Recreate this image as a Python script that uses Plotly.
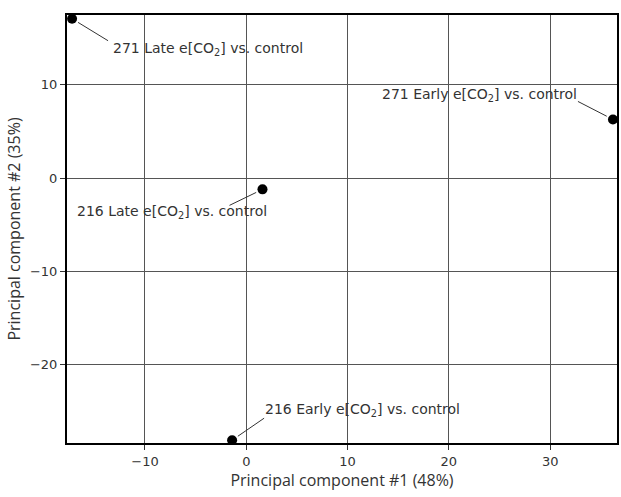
import math
import plotly.graph_objects as go

# Data
labels = ["271 Late e[CO<sub>2</sub>] vs. control",
          "216 Late e[CO<sub>2</sub>] vs. control",
          "271 Early e[CO<sub>2</sub>] vs. control",
          "216 Early e[CO<sub>2</sub>] vs. control"]
pc1 = [-17.2, 1.6, 36.2, -1.4]
pc2 = [17.1, -1.2, 6.3, -28.1]
x_ticks = [-10, 0, 10, 20, 30]
y_ticks = [-20, -10, 0, 10]

# label placement (pixel offsets, y downward)
text_shift = [(136, -30), (-90, -23), (-133, 24), (130, 30)]
leader_end = [(36, 22), (-33, 16), (-35, -18), (32, -22)]
STANDOFF = 7

FONT = "DejaVu Sans"
TFONT = "Open Sans"

fig = go.Figure()
fig.add_trace(go.Scatter(x=pc1, y=pc2, mode="markers",
                         marker=dict(color="black", size=10),
                         showlegend=False, hoverinfo="skip"))

for xi, yi, lab, (sx, sy), (ex, ey) in zip(pc1, pc2, labels, text_shift, leader_end):
    d = math.hypot(ex, ey)
    bx, by = ex * STANDOFF / d, ey * STANDOFF / d
    fig.add_shape(type="line", xref="x", yref="y",
                  xsizemode="pixel", ysizemode="pixel",
                  xanchor=xi, yanchor=yi,
                  x0=bx, y0=-by, x1=ex, y1=-ey,
                  line=dict(color="#333", width=1))
    fig.add_annotation(x=xi, y=yi, xref="x", yref="y", text=lab,
                       showarrow=False, xanchor="center", yanchor="middle",
                       xshift=sx, yshift=sy,
                       font=dict(family=FONT, size=14, color="#333"))

axis_common = dict(showgrid=True, gridcolor="#555", gridwidth=1,
                   showline=True, linecolor="black", linewidth=2, mirror=True,
                   ticks="outside", ticklen=5, tickcolor="#333",
                   zeroline=False,
                   tickfont=dict(family=FONT, size=13, color="#333"))

fig.update_layout(
    width=621, height=497,
    margin=dict(l=67, r=2, t=15, b=54),
    plot_bgcolor="white", paper_bgcolor="white",
    xaxis=dict(range=[-17.7, 36.6], tickvals=x_ticks,
               ticktext=[str(v).replace("-", "\u2212") for v in x_ticks],
               title=dict(text="Principal component #1 (48%)", standoff=1,
                          font=dict(family=TFONT, size=16, color="#333")),
               **axis_common),
    yaxis=dict(range=[-28.4, 17.5], tickvals=y_ticks,
               ticktext=[str(v).replace("-", "\u2212") for v in y_ticks],
               title=dict(text="Principal component #2 (35%)", standoff=5,
                          font=dict(family=TFONT, size=16, color="#333")),
               **axis_common),
)

fig.write_html("out.html", config={"displayModeBar": False},
               post_script="document.body.style.margin='0';document.body.style.overflow='hidden';")
